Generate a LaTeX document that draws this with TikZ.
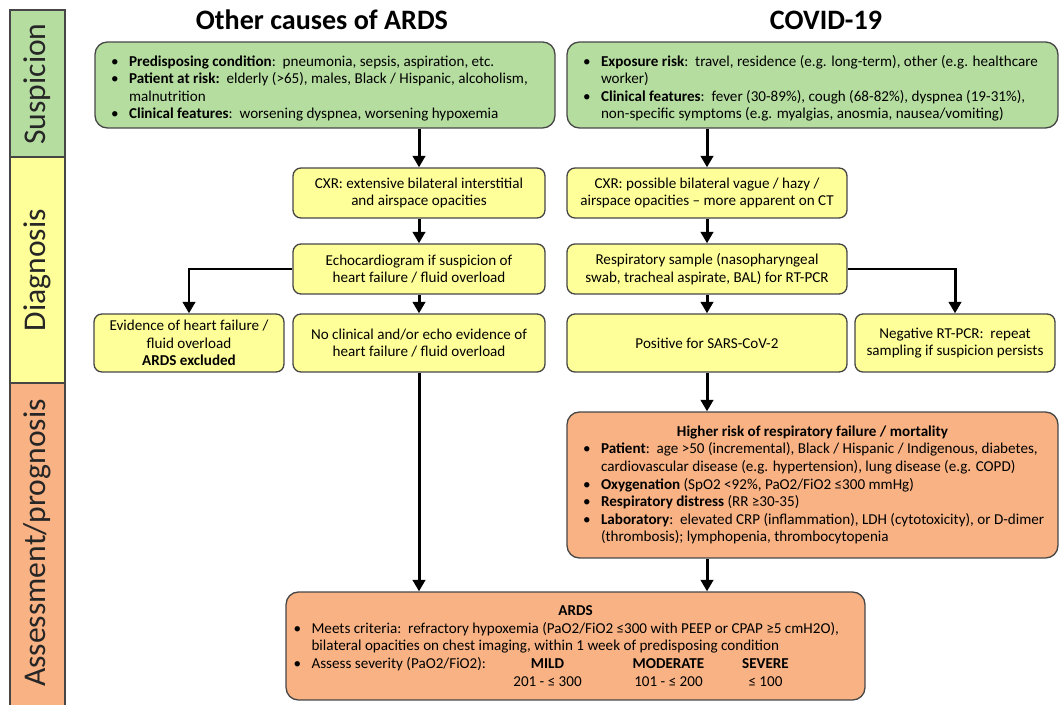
\documentclass[tikz,border=0pt]{standalone}
\usepackage{fontspec}
\setmainfont{Carlito}
\usetikzlibrary{arrows.meta}

\definecolor{sugreen}{RGB}{182,221,160}
\definecolor{dxyellow}{RGB}{255,255,153}
\definecolor{asorange}{RGB}{248,178,132}
\definecolor{edgegray}{RGB}{70,70,70}

\newcommand{\bodysize}{\fontsize{8.6}{10}\selectfont}
\newcommand{\bitem}{\par\hangindent=0.36cm\hangafter=1\noindent\makebox[0.36cm][l]{\textbullet}}

\tikzset{
  stage/.style={draw=edgegray, line width=0.7pt},
  stagelabel/.style={rotate=90, font=\fontsize{18}{21}\selectfont, text=black!85},
  heading/.style={font=\fontsize{16}{19}\selectfont\bfseries},
  card/.style={draw=edgegray, line width=0.75pt, rounded corners=4.5pt, align=center, font=\bodysize, inner sep=1pt},
  bigcard/.style={card, rounded corners=7pt, align=flush left, inner ysep=2pt},
  flow/.style={line width=1.7pt, -{Triangle[length=6.5pt,width=7pt]}},
}

\begin{document}
\begin{tikzpicture}[x=0.02cm, y=-0.02cm]
	\useasboundingbox (0,0) rectangle (1060,705);

	% -- Phases on the left --
	\draw[stage, fill=sugreen] (10,10) rectangle (65,157);
	\draw[stage, fill=dxyellow] (10,157) rectangle (65,383);
	\draw[stage, fill=asorange] (10,383) rectangle (65,712);
	\node[stagelabel] (suspicion) at (37.5,84) {Suspicion};
	\node[stagelabel] (diagnosis) at (37.5,270) {Diagnosis};
	\node[stagelabel] (assessment) at (37.5,543) {Assessment/prognosis};

	% -- Column headings --
	\node[heading] (othertitle) at (322,20) {Other causes of ARDS};
	\node[heading] (covidtitle) at (826,20) {COVID-19};

	% -- Suspicion --
	\node[bigcard, fill=sugreen, text width=8.56cm, inner xsep=0.32cm, minimum height=1.72cm] (otherrisk) at (325,85) {%
		\bitem \mbox{\textbf{Predisposing condition}:\ \ pneumonia, sepsis, aspiration, etc.}
		\bitem \mbox{\textbf{Patient at risk:}\ \ elderly (>65), males, Black / Hispanic, alcoholism,}\newline malnutrition
		\bitem \mbox{\textbf{Clinical features}:\ \ worsening dyspnea, worsening hypoxemia}\par};
	\node[bigcard, fill=sugreen, text width=9.18cm, inner xsep=0.32cm, minimum height=1.72cm] (covidrisk) at (812.5,85) {%
		\bitem \mbox{\textbf{Exposure risk}:\ \ travel, residence (e.g. long-term), other (e.g. healthcare}\newline worker)
		\bitem \mbox{\textbf{Clinical features}:\ \ fever (30-89\%), cough (68-82\%), dyspnea (19-31\%),}\newline \mbox{non-specific symptoms (e.g. myalgias, anosmia, nausea/vomiting)}\par};

	% -- Diagnosis, other causes --
	\node[card, fill=dxyellow, minimum width=5.04cm, minimum height=1cm] (othercxr) at (419,193) {CXR: extensive bilateral interstitial\\and airspace opacities};
	\node[card, fill=dxyellow, minimum width=5.04cm, minimum height=1cm] (echo) at (419,269) {Echocardiogram if suspicion of\\heart failure / fluid overload};
	\node[card, fill=dxyellow, minimum width=3.8cm, minimum height=1.16cm] (heartfail) at (189,343) {Evidence of heart failure /\\fluid overload\\\textbf{ARDS excluded}};
	\node[card, fill=dxyellow, minimum width=5.04cm, minimum height=1.16cm] (noheartfail) at (419,343) {No clinical and/or echo evidence of\\heart failure / fluid overload};

	% -- Diagnosis, COVID-19 --
	\node[card, fill=dxyellow, minimum width=5.6cm, minimum height=1cm] (covidcxr) at (707,193) {CXR: possible bilateral vague / hazy /\\airspace opacities -- more apparent on CT};
	\node[card, fill=dxyellow, minimum width=5.6cm, minimum height=1cm] (sample) at (707,269) {Respiratory sample (nasopharyngeal\\swab, tracheal aspirate, BAL) for RT-PCR};
	\node[card, fill=dxyellow, minimum width=5.6cm, minimum height=1.16cm] (positive) at (707,343) {Positive for SARS-CoV-2};
	\node[card, fill=dxyellow, minimum width=4cm, minimum height=1.16cm] (negative) at (955,343) {Negative RT-PCR:\ \ repeat\\sampling if suspicion persists};

	% -- Assessment --
	\node[bigcard, fill=asorange, text width=9.18cm, inner xsep=0.32cm, minimum height=2.92cm] (highrisk) at (812.5,485) {%
		{\centering\textbf{Higher risk of respiratory failure / mortality}\par}
		\bitem \mbox{\textbf{Patient}:\ \ age >50 (incremental), Black / Hispanic / Indigenous, diabetes,}\newline \mbox{cardiovascular disease (e.g. hypertension), lung disease (e.g. COPD)}
		\bitem \textbf{Oxygenation} (SpO2 <92\%, PaO2/FiO2 ≤300 mmHg)
		\bitem \textbf{Respiratory distress} (RR ≥30-35)
		\bitem \mbox{\textbf{Laboratory}:\ \ elevated CRP (inflammation), LDH (cytotoxicity), or D-dimer}\newline (thrombosis); lymphopenia, thrombocytopenia\par};
	\node[bigcard, fill=asorange, text width=11.28cm, inner xsep=0.15cm, minimum height=2.16cm] (ards) at (575.5,646) {%
		{\centering\textbf{ARDS}\par}
		\bitem \mbox{Meets criteria:\ \ refractory hypoxemia (PaO2/FiO2 ≤300 with PEEP or CPAP ≥5 cmH2O),}\newline \mbox{bilateral opacities on chest imaging, within 1 week of predisposing condition}
		\par\noindent\makebox[4.18cm][l]{\makebox[0.36cm][l]{\textbullet}Assess severity (PaO2/FiO2):}\makebox[1.8cm]{\textbf{MILD}}\makebox[3.04cm]{\textbf{MODERATE}}\makebox[0.84cm]{\textbf{SEVERE}}\newline
		\makebox[4.18cm]{}\makebox[1.8cm]{201 - ≤ 300}\makebox[3.04cm]{101 - ≤ 200}\makebox[0.84cm]{≤ 100}\par};

	% -- Flow --
	\draw[flow] (otherrisk.south -| othercxr.north) -- (othercxr.north);
	\draw[flow] (othercxr) -- (echo);
	\draw[flow] (echo) -- (noheartfail);
	\draw[flow] (echo.west) -| (heartfail.north);
	\draw[flow] (noheartfail.south) -- (ards.north -| noheartfail.south);
	\draw[flow] (covidrisk.south -| covidcxr.north) -- (covidcxr.north);
	\draw[flow] (covidcxr) -- (sample);
	\draw[flow] (sample) -- (positive);
	\draw[flow] (sample.east) -| (negative.north);
	\draw[flow] (positive.south) -- (highrisk.north -| positive.south);
	\draw[flow] (highrisk.south -| positive.south) -- (ards.north -| positive.south);
\end{tikzpicture}
\end{document}
